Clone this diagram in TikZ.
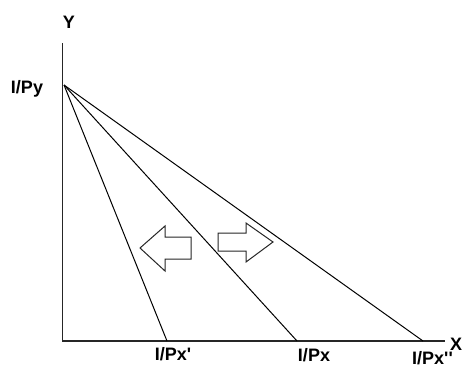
\documentclass[tikz,border=0pt]{standalone}
\usepackage{fontspec}
\setmainfont{Liberation Sans}
\begin{document}
\begin{tikzpicture}[x=1pt,y=-1pt,
  axis/.style={line width=1.3pt,draw=black!85},
  budget/.style={line width=1pt,draw=black},
  shiftarrow/.style={line width=1pt,draw=black!85,fill=white,line join=miter},
  lbl/.style={font=\bfseries\fontsize{18}{18}\selectfont,inner sep=0pt}]
\useasboundingbox (0,0) rectangle (463,367);
% axes
\coordinate (O) at (62.5,341);
\coordinate (Ytop) at (62.5,43);
\coordinate (Xend) at (445,341);
\draw[axis] (Ytop) -- (O) -- (Xend);
% budget lines
\coordinate (A) at (64,85);
\coordinate (B1) at (167,341);
\coordinate (B2) at (297,341);
\coordinate (B3) at (423,341);
\draw[budget] (A) -- (B1);
\draw[budget] (A) -- (B2);
\draw[budget] (A) -- (B3);
% labels
\node[lbl] (ly) at (69,22) {Y};
\node[lbl] (lpy) at (27,89) {I/Py};
\node[lbl] (lx1) at (173,354) {I/Px\textquotesingle};
\node[lbl] (lx2) at (314,355) {I/Px};
\node[lbl,anchor=north west] (lx3) at (412,351) {I/Px\textquotesingle\textquotesingle};
\node[lbl] (lx) at (456,344) {X};
% shift arrows
\draw[shiftarrow] (140,248) -- (165,226) -- (165,237) -- (191,237) -- (191,259) -- (165,259) -- (165,271) -- cycle;
\draw[shiftarrow] (273,242) -- (246,223) -- (246,233) -- (218,233) -- (218,251) -- (246,251) -- (246,262) -- cycle;
\end{tikzpicture}
\end{document}
